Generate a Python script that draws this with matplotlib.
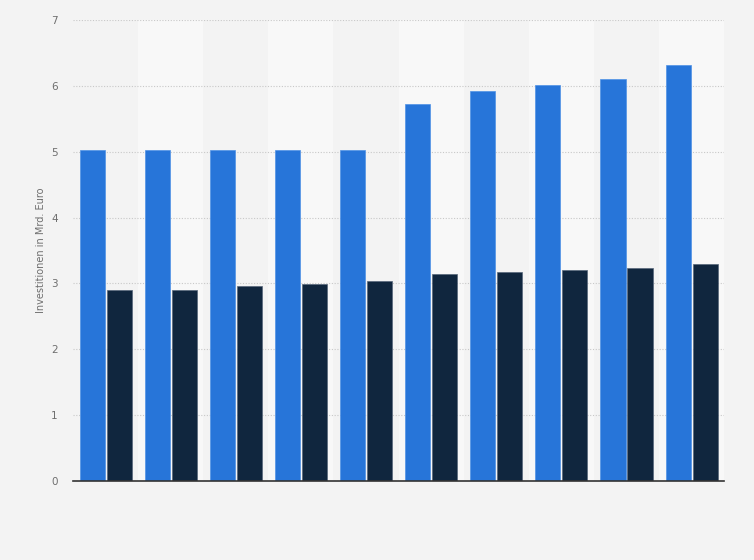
import matplotlib
matplotlib.use("Agg")
import matplotlib.pyplot as plt
import numpy as np

categories = [str(i) for i in range(1, 11)]
series_a = [5.02, 5.02, 5.02, 5.02, 5.02, 5.72, 5.92, 6.01, 6.11, 6.31]
series_b = [2.90, 2.90, 2.96, 2.99, 3.03, 3.15, 3.18, 3.21, 3.24, 3.29]
yticks = [0, 1, 2, 3, 4, 5, 6, 7]
ylabel = "Investitionen in Mrd. Euro"

bg = "#f3f3f3"
fig = plt.figure(figsize=(7.54, 5.6), dpi=100, facecolor=bg)
ax = fig.add_axes([73/754, 1-481/560, (724-73)/754, (481-20)/560])
ax.set_facecolor(bg)

x = np.arange(len(categories))
for i in x:
    if i % 2 == 1:
        ax.axvspan(i-0.5, i+0.5, color="#f8f8f8", zorder=0, lw=0)

w = 0.385
ax.bar(x-0.205, series_a, width=w, color="#2775d9", edgecolor="#4f92e6", linewidth=0.5, zorder=3)
ax.bar(x+0.21, series_b, width=w, color="#10263e", edgecolor="#56667a", linewidth=0.5, zorder=3)

ax.set_xlim(-0.5, len(categories)-0.5)
ax.set_ylim(0, 7)
ax.set_yticks(yticks)
ax.set_yticklabels([str(t) for t in yticks], fontsize=7.5, color="#6e6e6e")
ax.set_xticks([])
ax.yaxis.grid(True, linestyle=(0, (1, 1.5)), color="#c8c8c8", linewidth=0.8, zorder=1)
ax.set_axisbelow(True)
for s in ["top", "right", "left"]:
    ax.spines[s].set_visible(False)
ax.spines["bottom"].set_color("#333333")
ax.spines["bottom"].set_linewidth(1.2)
ax.spines["bottom"].set_zorder(4)
ax.tick_params(axis="y", length=0, pad=11)
ax.set_ylabel(ylabel, fontsize=7, color="#6e6e6e", labelpad=4)

fig.savefig("out.png", dpi=100, facecolor=bg)
